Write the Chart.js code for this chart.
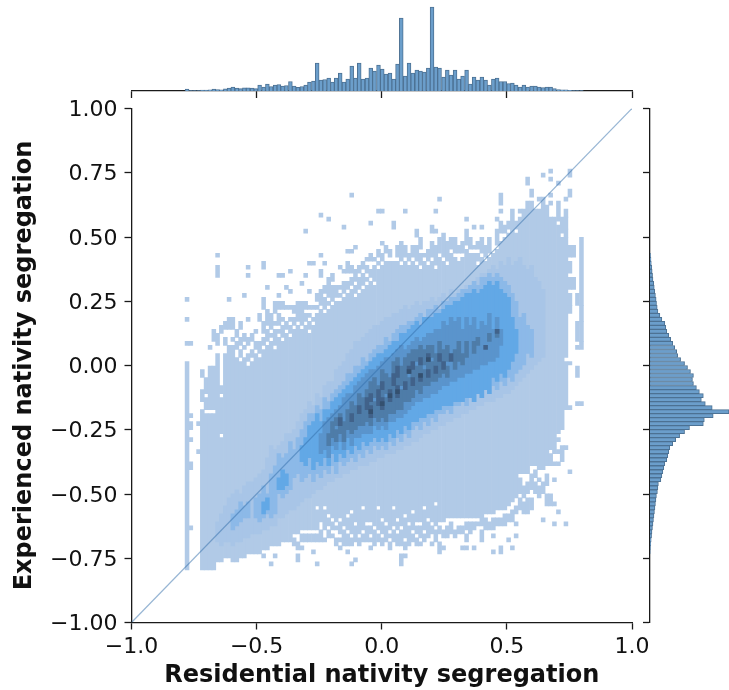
<!DOCTYPE html>
<html>
<head>
<meta charset="utf-8">
<script src="https://cdn.jsdelivr.net/npm/chart.js"></script>
<style>
  body { margin: 0; background: #fff; }
  canvas { position: absolute; left: 0; top: 0; }
</style>
</head>
<body>
<canvas id="main" width="729" height="690"></canvas>
<canvas id="top" width="729" height="690"></canvas>
<canvas id="right" width="729" height="690"></canvas>
<script>
// x bin centres shared by the heatmap and the top histogram
const xBins = [-.778,-.763,-.748,-.732,-.717,-.702,-.686,-.671,-.656,-.641,-.625,-.610,-.595,-.579,-.564,-.549,-.534,-.518,-.503,-.488,
  -.472,-.457,-.442,-.426,-.411,-.396,-.381,-.365,-.350,-.335,-.319,-.304,-.289,-.273,-.258,-.243,-.228,-.212,-.197,-.182,
  -.166,-.151,-.136,-.120,-.105,-.090,-.075,-.059,-.044,-.029,-.013,.002,.017,.033,.048,.063,.078,.094,.109,.124,
  .140,.155,.170,.186,.201,.216,.231,.247,.262,.277,.293,.308,.323,.339,.354,.369,.384,.400,.415,.430,
  .446,.461,.476,.492,.507,.522,.537,.553,.568,.583,.599,.614,.629,.645,.660,.675,.690,.706,.721,.736,.752,.767,.782,.798];
const yBinSize = 0.0156; // y bin number -> data value

const xTicks = [-1, -0.5, 0, 0.5, 1];
const xTickLabels = ['\u22121.0', '\u22120.5', '0.0', '0.5', '1.0'];
const yTicks = [-1, -0.75, -0.5, -0.25, 0, 0.25, 0.5, 0.75, 1];
const yTickLabels = ['\u22121.00', '\u22120.75', '\u22120.50', '\u22120.25', '0.00', '0.25', '0.50', '0.75', '1.00'];

const diagonal = [[-1, -1], [1, 1]];

// top histogram, one value per x bin
const topCounts = [2,.3,.3,.4,1,1,1.2,2,1.4,1.2,2.2,3,4,3,2.3,3.2,3.2,3,2.3,6,3.8,7,4.5,6,6.5,5,5.5,9.5,5,3.7,4.5,6,9,10,
  28,11,11.5,13,9,13,18,9,12,25,13,28,12,13,23,20,26,22,17,18,12,27,73,15,28,18,21,20,19,23,84,24,23,14,21,16,21,12,15,21,7,14,11,14,11,6,12,13,9.5,9.5,
  7.5,8,6,4,6,4,5,5,4,3.5,4,4,2.5,1.5,1.2,1.2,.7,.5,.5,.5];

// right histogram, y bin numbers and their values
const rightBins = [27,26,25,24,23,22,21,20,19,18,17,16,15,14,13,12,11,10,9,8,7,6,5,4,3,2,1,0,-1,-2,-3,-4,-5,-6,-7,-8,-9,-10,-11,-12,-13,-14,-15,-16,-17,-18,-19,-20,-21,-22,-23,-24,-25,-26,-27,-28,-29,-30,-31,-32,-33,-34,-35,-36,-37,-38,-39,-40,-41,-42,-43,-44,-45,-46,-47];
const rightCounts = [.5,1,1.3,1.8,2.2,2.6,3,3.8,4.3,4.8,5.5,6.2,6.6,7.3,8,10,12,15,16,17,19,21,23,25,27,28,31,35,38,41,44,43,44,47,50,54,52,56,63,80,64,55,54,40,35,30,26,23,20,19,18,17,15,14,13,12,11,8.5,8,7.5,6.5,6,5.5,5,4.5,4,3.5,3,2.5,2,1.6,1.2,.8,.4,.2];

// heatmap lowest level: for each x bin, pairs of y bin numbers (first, last)
const cellsLevel1 = [
  [-51,0,5,5,11,11,16,16],[-41,-41,-26,-25,-19,-19,-16,-16,-15,-15,-13,-13,5,5],[],[-22,-22,-15,-15],
  [-51,-12,-9,-7,-3,-2],[-51,-13,-11,-9,-7,-4],[-51,-13,-11,-1,4,4],[-51,-13,-11,-1,6,8],
  [-49,2,5,7,22,24,27,27],[-49,-19,-17,-9,-7,-6,8,9],[-48,2,5,6,9,10],[-48,4,9,11,16,16],[-49,4,6,6,9,11],
  [-49,1,4,5,7,8],[-48,0,2,3,5,6,9,10],[-48,1,4,4,6,7,17,17],[-47,-1,1,2,5,6,11,11,22,22,24,24],[-47,0,2,3,6,7],
  [-47,2,4,5,8,8],[-47,1,3,5,11,12],[-48,-48,-46,3,5,6,8,10,14,16,24,25],[-46,4,6,8,10,13,19,19],[-50,-50,-45,5,7,7,9,12],
  [-48,-48,-45,3,5,8,10,10,13,15],[-45,6,8,8,10,12,14,15,17,17,22,22],[-44,5,7,9,11,11,14,15,22,22],[-44,7,9,10,14,14,19,19],
  [-44,6,8,9,11,11,14,14,18,18,23,23],[-45,-44,-42,8,10,11,13,14],[-49,-48,-46,-45,-42,9,11,15],[-46,-46,-44,-43,-41,8,10,15,20,20],
  [-44,-43,-41,9,11,12,14,15,22,22,33,33],[-44,-43,-41,7,9,10,12,12,14,14,18,18,25,25],[-47,-47,-44,-43,-41,9,11,11,14,14,25,25],
  [-50,-50,-44,-43,-41,-37,-35,12,14,14,16,17],[-44,-42,-39,13,15,17,18,18,22,23,27,27,37,37],[-44,-44,-41,-37,-35,12,14,16,18,19,25,25],
  [-43,-42,-40,-39,-37,13,15,15,17,21,36,36],[-43,-43,-41,-40,-38,14,16,19,21,22],[-45,-44,-41,-41,-39,15,17,19],[-46,-46,-44,-44,-42,-40,-38,15,17,17,19,19,24,24],
  [-45,-42,-40,16,18,20,23,23,34,34],[-47,-47,-45,-43,-41,-39,-37,17,19,20,23,25,28,28],[-50,-50,-45,-44,-42,-38,-36,18,20,21,23,24,28,28,42,42],
  [-49,-49,-44,-41,-39,16,18,19,21,23,29,29],[-45,-44,-42,17,19,21,23,24],[-44,-43,-41,-37,-35,18,20,22,24,25],[-44,-41,-39,19,21,21,23,24,26,26],
  [-46,-46,-44,-44,-42,-41,-39,20,22,23,26,27,35,35],[-45,-42,-40,19,21,24,26,26],[-44,-43,-41,-37,-35,23,25,25,27,28,38,38],[-45,-44,-42,-40,-38,24,26,27,30,30,38,38],
  [-44,-41,-39,25,28,29],[-46,-45,-43,-43,-41,25,27,28],[-44,-42,-40,-37,-35,25,34,35],[-45,-43,-41,-40,-38,25,27,29],[-50,-48,-45,-42,-40,24,26,29,30,30],
  [-48,-48,-46,-45,-43,-39,-37,25,27,29,38,38],[-45,-41,-39,24,26,27],[-44,-43,-41,-38,-36,25,27,29],[-45,-44,-42,-41,-39,24,26,29,32,33],[-45,-45,-43,-41,-39,23,25,27,29,31],
  [-44,-43,-41,-37,-35,25,27,27],[-43,-40,-38,24,26,28],[-45,-45,-42,-41,-39,25,27,30,33,34],[-44,-42,-40,-36,-34,23,25,29,33,33,38,38],[-47,-45,-42,-41,-39,26,28,31,41,41],
  [-46,-46,-43,-42,-39,25,27,32],[-43,-41,-38,24,26,30],[-42,-40,-38,27,29,31],[-43,-42,-38,26,28,31],[-42,-41,-38,25,28,29],[-46,-46,-42,-41,-38,26,28,30],
  [-46,-46,-44,-43,-41,-40,-38,28,30,33,36,36],[-42,-40,-38,27,29,31],[-46,-46,-41,-40,-38,27,29,29,34,34],[-40,-40,-38,24,26,27,29,30],[-44,-42,-40,26,28,31,34,34],
  [-41,-39,-37,25,27,29],[-41,-40,-37,26,28,31],[-47,-47,-43,-43,-41,-39,-37,27],[-40,-39,-36,28,30,33,36,36],[-47,-46,-40,-39,-36,30,33,35,38,38,40,42],
  [-40,-38,-36,31,33,34],[-44,-44,-39,-38,-35,32,34,35],[-46,-46,-39,-37,-34,38],[-43,-43,-40,-40,-37,-36,-33,32,34,35],
  [-36,-34,-32,-29,-27,36,38,38],[-37,-35,-33,-31,-27,38],[-37,-34,-32,-30,-27,40,45,46],[-36,-34,-31,-28,-25,40,42,43],[-32,-30,-28,-27,-25,38],
  [-33,-31,-29,-29,-26,38,41,41],[-39,-39,-32,-30,-26,41,47,47],[-35,-33,-30,-28,-25,39],[-35,-33,-25,-23,-21,36,40,40,42,42,46,46,48,48],
  [-40,-40,-35,-35,-29,-29,-25,-25,-22,36],[-37,-37,-25,-25,-22,-22,-19,-19,-17,34,36,40,45,45],[-24,-21,-16,31,33,36],
  [-40,-40,-21,-21,-11,0,2,31,32,33,34,36,37,38,41,41],[-27,-27,-11,-11,0,0,13,14,15,17,19,21,23,25,27,29,42,43,47,48],[19,21,27,29],
  [-10,-10,-3,-1,4,4,6,10,15,17],[-10,-10,4,5,6,10,11,14,15,31]
];

// denser levels: [x bin index, first y bin, last y bin]
const cellsLevel2 = [[8,-44,-40],[9,-45,-38],[10,-44,-36],[11,-44,-34],[12,-45,-33],[13,-44,-32],[14,-44,-33],[15,-43,-31],[16,-43,-30],[17,-42,-30],[18,-42,-29],[19,-42,-28],[20,-41,-27],[21,-41,-24],[22,-40,-21],[23,-40,-22],[24,-38,-21],[25,-38,-20],[26,-37,-18],[27,-36,-18],[28,-36,-17],[29,-35,-15],[30,-34,-13],[31,-33,-12],[32,-33,-10],[33,-32,-11],[34,-31,-8],[35,-31,-9],[36,-30,-6],[37,-29,-5],[38,-29,-5],[39,-28,-2],[40,-28,-1],[41,-27,0],[42,-27,2],[43,-26,3],[44,-26,5],[45,-25,5],[46,-25,6],[47,-25,7],[48,-24,8],[49,-24,9],[50,-23,9],[51,-23,10],[52,-22,11],[53,-22,11],[54,-22,12],[55,-21,12],[56,-21,13],[57,-20,14],[58,-20,13],[59,-19,14],[60,-19,15],[61,-18,14],[62,-17,15],[63,-17,15],[64,-16,16],[65,-16,15],[66,-15,16],[67,-15,17],[68,-14,16],[69,-14,18],[70,-13,17],[71,-13,18],[72,-12,18],[73,-12,19],[74,-11,19],[75,-11,20],[76,-10,21],[77,-10,22],[78,-9,22],[79,-9,23],[80,-9,24],[81,-8,23],[82,-8,25],[83,-7,24],[84,-7,26],[85,-6,24],[86,-5,25],[87,-4,26],[88,-3,24],[89,-2,23],[90,-1,24],[91,0,21],[92,1,20],[93,2,18]];
const cellsLevel3 = [[12,-41,-38],[13,-40,-37],[14,-39,-35],[15,-38,-36],[16,-38,-35],[18,-38,-34],[19,-39,-33],[20,-38,-31],[21,-37,-33],[22,-38,-28],[23,-37,-26],[24,-32,-23],[25,-33,-24],[26,-32,-23],[27,-31,-20],[28,-28,-22],[29,-27,-19],[30,-29,-17],[31,-28,-15],[32,-27,-13],[33,-29,-13],[34,-27,-11],[35,-28,-12],[36,-26,-9],[37,-27,-10],[38,-25,-8],[39,-27,-7],[40,-24,-6],[41,-25,-5],[42,-24,-3],[43,-23,-3],[44,-24,-1],[45,-22,-1],[46,-23,1],[47,-21,0],[48,-22,2],[49,-20,3],[50,-21,4],[51,-20,4],[52,-21,6],[53,-19,5],[54,-20,7],[55,-18,8],[56,-19,9],[57,-17,9],[58,-18,10],[59,-16,10],[60,-15,11],[61,-16,12],[62,-14,11],[63,-15,13],[64,-13,13],[65,-14,14],[66,-12,13],[67,-12,15],[68,-11,15],[69,-12,16],[70,-10,16],[71,-10,17],[72,-9,18],[73,-10,18],[74,-8,19],[75,-9,20],[76,-7,19],[77,-8,21],[78,-6,21],[79,-7,22],[80,-5,21],[81,-6,22],[82,-4,21],[83,-5,20],[84,-3,19],[85,-4,17],[86,-2,15],[87,-1,11],[88,0,12],[89,3,9],[90,2,8]];
const cellsLevel4 = [[20,-37,-35],[21,-36,-34],[24,-31,-29],[25,-31,-27],[26,-30,-28],[30,-24,-21],[31,-25,-19],[32,-23,-16],[33,-26,-15],[34,-24,-13],[35,-25,-15],[36,-23,-12],[37,-25,-12],[38,-22,-10],[39,-24,-9],[40,-22,-8],[41,-23,-7],[42,-21,-6],[43,-22,-5],[44,-20,-4],[45,-21,-3],[46,-19,-2],[47,-20,-1],[48,-19,0],[49,-18,1],[50,-19,2],[51,-18,2],[52,-19,3],[53,-17,4],[54,-18,5],[55,-16,5],[56,-17,7],[57,-15,7],[58,-16,8],[59,-14,9],[60,-14,10],[61,-13,9],[62,-13,11],[63,-12,11],[64,-12,11],[65,-11,12],[66,-11,12],[67,-10,13],[68,-10,14],[69,-10,14],[70,-9,15],[71,-9,15],[72,-9,16],[73,-8,17],[74,-8,17],[75,-9,18],[76,-7,17],[77,-8,18],[78,-6,19],[79,-7,20],[80,-3,19],[81,-4,20],[82,-2,18],[83,-3,17],[84,-1,16],[85,1,11],[86,3,8]];
const cellsLevel5 = [[35,-22,-18],[36,-21,-15],[37,-23,-14],[38,-20,-13],[39,-21,-12],[40,-19,-11],[41,-21,-9],[42,-18,-8],[43,-20,-8],[44,-18,-6],[45,-18,-5],[46,-17,-4],[47,-17,-3],[48,-17,-2],[49,-15,-2],[50,-16,-1],[51,-15,0],[52,-16,1],[53,-14,1],[54,-14,2],[55,-13,3],[56,-13,4],[57,-12,3],[58,-11,4],[59,-10,5],[60,-9,6],[61,-9,5],[62,-8,6],[63,-8,7],[64,-7,7],[65,-7,8],[66,-6,8],[67,-5,10],[68,-5,9],[69,-4,11],[70,-4,10],[71,-3,11],[72,-3,8],[73,-2,11],[74,-2,9],[75,-1,11],[76,-1,8],[77,0,10],[78,0,9],[79,1,12],[80,1,8],[81,2,11],[82,5,8]];
const cellsLevel6 = [[37,-20,-18],[38,-18,-15],[39,-19,-17],[39,-15,-14],[40,-17,-13],[41,-19,-15],[42,-16,-12],[43,-17,-14],[43,-12,-10],[44,-16,-11],[45,-15,-12],[45,-10,-8],[46,-15,-9],[47,-14,-7],[48,-15,-5],[49,-13,-10],[49,-8,-4],[50,-14,-6],[51,-13,-2],[52,-14,-9],[52,-7,-3],[53,-12,-4],[54,-12,-6],[54,-4,0],[55,-11,1],[56,-11,-7],[56,-5,-1],[57,-9,1],[58,-9,-4],[58,-2,2],[59,-8,3],[60,-6,-1],[60,1,3],[61,-7,4],[62,-5,-2],[62,0,3],[63,-5,4],[64,-4,0],[64,2,4],[65,-4,2],[66,-3,5],[67,-2,3],[68,-3,-1],[68,1,4],[70,-1,3],[71,1,5],[72,0,2],[73,2,5],[75,3,5],[76,5,6],[79,6,7],[81,7,8]];
const cellsLevel7 = [[40,-15,-14],[43,-14,-13],[45,-12,-11],[47,-11,-9],[48,-13,-11],[48,-9,-8],[50,-10,-7],[51,-11,-9],[51,-6,-5],[53,-9,-7],[54,-5,-3],[55,-8,-6],[55,-3,-1],[57,-6,-5],[58,-2,-1],[59,-5,-4],[59,-1,0],[61,-4,-3],[61,0,1],[63,-3,-2],[63,1,2],[65,-2,-1],[66,1,2],[67,-1,0],[69,1,2],[78,4,4],[81,8,8]];
const cellsLevel8 = [[48,-12,-12],[51,-10,-10],[53,-8,-8],[55,-7,-7],[58,-2,-2],[61,-3,-3],[63,1,1]];

const levelColors = ['#b1cae7', '#a8c5e7', '#8cb9e8', '#62a8e6', '#5a94cc', '#4e7ca8', '#41628a', '#34506f'];

const FONT = '"DejaVu Sans"';
const INK = '#111';

function cell(i, first, last) {
  return { x: xBins[i], y: [first * yBinSize, (last + 1) * yBinSize] };
}

function level1Points() {
  const pts = [];
  cellsLevel1.forEach((spans, i) => {
    for (let k = 0; k < spans.length; k += 2) pts.push(cell(i, spans[k], spans[k + 1]));
  });
  return pts;
}

function heatDataset(points, idx) {
  return {
    type: 'bar',
    data: points,
    backgroundColor: levelColors[idx],
    borderWidth: 0,
    barThickness: 3.9,
    grouped: false,
    order: 20 - idx
  };
}

const levels = [cellsLevel2, cellsLevel3, cellsLevel4, cellsLevel5, cellsLevel6, cellsLevel7, cellsLevel8];

const heatSets = [heatDataset(level1Points(), 0)];
levels.forEach((lv, n) => {
  heatSets.push(heatDataset(lv.map(c => cell(c[0], c[1], c[2])), n + 1));
});

const axisLine = { display: true, color: '#1a1a1a', width: 1.3 };
const tickMarks = { drawOnChartArea: false, drawTicks: true, tickLength: 7, tickColor: '#1a1a1a', tickWidth: 1.3, offset: false };

function fixedTicks(values) {
  return axis => { axis.ticks = values.map(v => ({ value: v })); };
}

new Chart(document.getElementById('main'), {
  type: 'bar',
  data: {
    datasets: heatSets.concat([{
      type: 'line',
      data: diagonal.map(p => ({ x: p[0], y: p[1] })),
      borderColor: 'rgba(50,110,170,0.5)',
      borderWidth: 1.2,
      pointRadius: 0,
      order: 0
    }])
  },
  options: {
    responsive: false,
    animation: false,
    events: [],
    layout: { padding: { top: 108.5, right: 97, left: 0, bottom: 0 } },
    plugins: { legend: { display: false }, tooltip: { enabled: false } },
    scales: {
      x: {
        type: 'linear', min: -1, max: 1, offset: false,
        afterBuildTicks: fixedTicks(xTicks),
        afterFit: s => { s.height = 67.5; },
        border: axisLine, grid: tickMarks,
        ticks: {
          autoSkip: false, maxRotation: 0, padding: 5, color: INK,
          font: { family: FONT, size: 22 },
          callback: v => xTickLabels[xTicks.indexOf(v)]
        },
        title: {
          display: true, text: 'Residential nativity segregation', color: INK,
          font: { family: FONT, size: 24, weight: 'bold' }, padding: { top: 0, bottom: 0 }
        }
      },
      y: {
        type: 'linear', min: -1, max: 1,
        afterBuildTicks: fixedTicks(yTicks),
        afterFit: s => { s.width = 131.5; },
        border: axisLine, grid: tickMarks,
        ticks: {
          autoSkip: false, padding: 7, color: INK, labelOffset: 2,
          font: { family: FONT, size: 22 },
          callback: v => yTickLabels[yTicks.indexOf(v)]
        },
        title: {
          display: true, text: 'Experienced nativity segregation', color: INK,
          font: { family: FONT, size: 24, weight: 'bold' }, padding: { top: 10.5, bottom: 0 }
        }
      }
    }
  }
});

const histFill = '#6b9ecb';
const histEdge = '#4d7294';

new Chart(document.getElementById('top'), {
  type: 'bar',
  data: {
    datasets: [{
      data: xBins.map((x, i) => ({ x: x, y: topCounts[i] })),
      backgroundColor: histFill, borderColor: histEdge, borderWidth: 1,
      barThickness: 3.83
    }]
  },
  options: {
    responsive: false,
    animation: false,
    events: [],
    layout: { padding: { top: 5, right: 97, left: 131.5, bottom: 593 } },
    plugins: { legend: { display: false }, tooltip: { enabled: false } },
    scales: {
      x: {
        type: 'linear', min: -1, max: 1, offset: false,
        afterBuildTicks: fixedTicks(xTicks),
        afterFit: s => { s.height = 6; },
        border: axisLine, grid: tickMarks,
        ticks: { display: false }
      },
      y: { type: 'linear', min: 0, max: 86, display: false }
    }
  }
});

new Chart(document.getElementById('right'), {
  type: 'bar',
  data: {
    datasets: [{
      data: rightBins.map((r, i) => ({ y: (r + 0.5) * yBinSize, x: rightCounts[i] })),
      backgroundColor: histFill, borderColor: histEdge, borderWidth: 1,
      barThickness: 4
    }]
  },
  options: {
    indexAxis: 'y',
    responsive: false,
    animation: false,
    events: [],
    layout: { padding: { top: 108.5, right: 0, left: 643, bottom: 67.5 } },
    plugins: { legend: { display: false }, tooltip: { enabled: false } },
    scales: {
      y: {
        type: 'linear', min: -1, max: 1, offset: false,
        afterBuildTicks: fixedTicks(yTicks),
        afterFit: s => { s.width = 7; },
        border: axisLine, grid: tickMarks,
        ticks: { display: false }
      },
      x: { type: 'linear', min: 0, max: 80, display: false, offset: false }
    }
  }
});
</script>
</body>
</html>
